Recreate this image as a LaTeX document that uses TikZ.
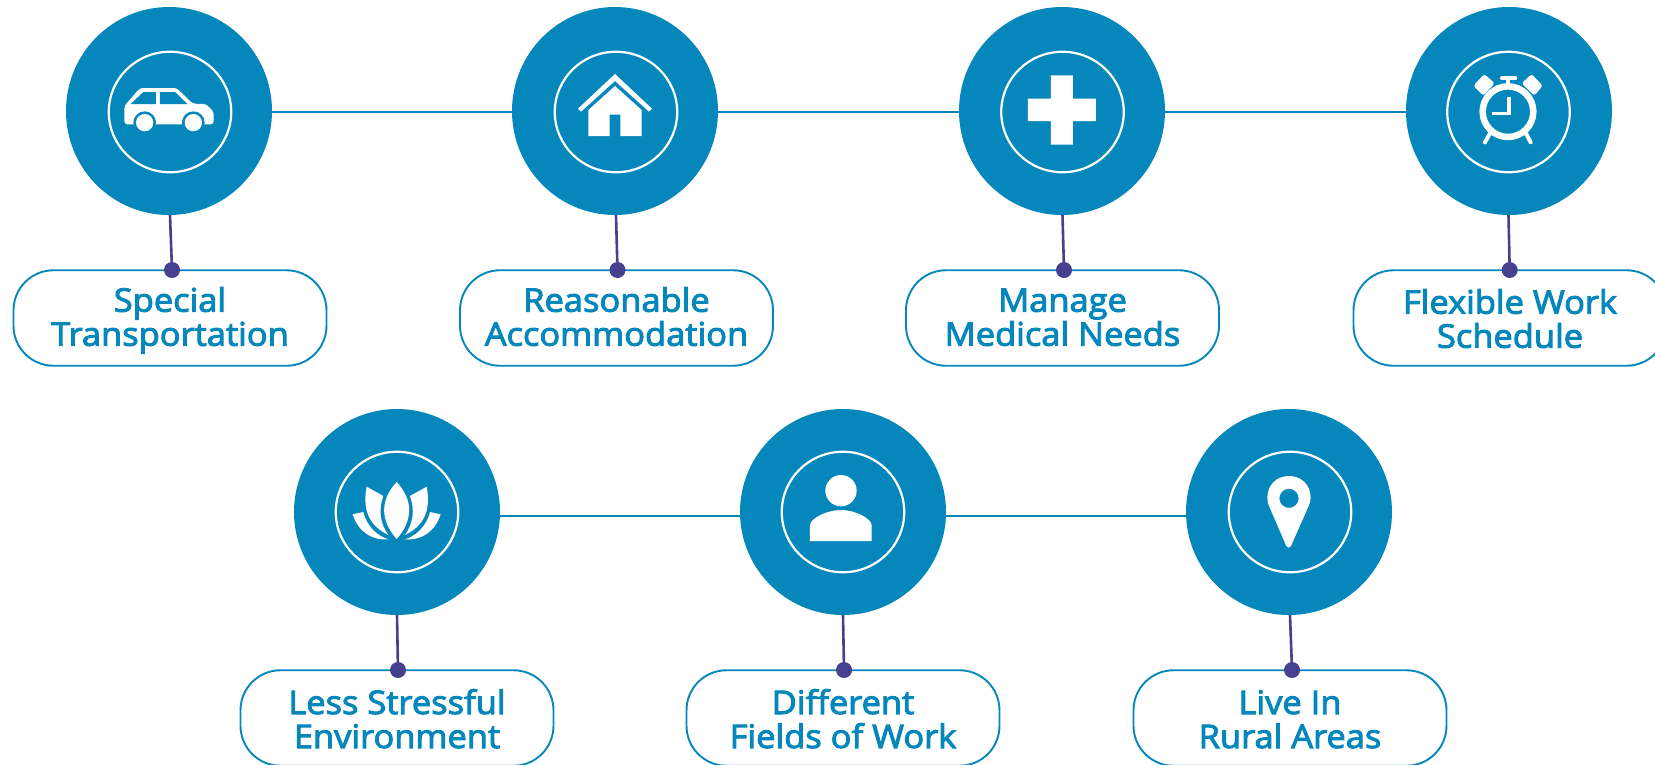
\documentclass[tikz,border=0pt]{standalone}
\usepackage{fontspec}
\usetikzlibrary{backgrounds,shapes.geometric}
\newfontfamily\osemi[FakeBold=3,FakeStretch=1.06]{Open Sans}
\definecolor{tealblue}{HTML}{0587BB}
\definecolor{stemviolet}{HTML}{47408E}
\tikzset{
  x=1pt,y=-1pt,
  disc/.style={ellipse,fill=tealblue,minimum width=206pt,minimum height=208pt,inner sep=0pt,outer sep=0pt},
  disclow/.style={disc,minimum height=206pt},
  ringc/.style={ellipse,draw=white,line width=2.2pt,minimum width=122.5pt,minimum height=120.5pt,inner sep=0pt,outer sep=0pt},
  pill/.style={draw=tealblue,line width=1.9pt,rounded corners=40pt,minimum width=313pt,minimum height=95.5pt,inner sep=0pt,outer sep=0pt,text=tealblue,align=center,font=\osemi\fontsize{32.5}{34}\selectfont,text height=60pt,text depth=4.6pt},
  pilllow/.style={pill,text height=64.6pt,text depth=4.6pt},
  dotn/.style={circle,fill=stemviolet,minimum size=16pt,inner sep=0pt,outer sep=0pt},
  hlink/.style={draw=tealblue,line width=2.7pt},
  stem/.style={draw=stemviolet,line width=2.6pt},
  icon/.style={fill=white,draw=none},
  iconcut/.style={fill=tealblue,draw=none},
  zoomed/.style={x=0.33333pt,y=-0.33333pt},
}
\begin{document}
\begin{tikzpicture}
\useasboundingbox (0,0) rectangle (1655,764);
\clip (0,0) rectangle (1655,764);
% discs
\node[disc] (d1) at (169,111) {};
\node[disc] (d2) at (615,111) {};
\node[disc] (d3) at (1062,111) {};
\node[disc] (d4) at (1509,111) {};
\node[disclow] (d5) at (397,512) {};
\node[disclow] (d6) at (843,512) {};
\node[disclow] (d7) at (1289,512) {};
% rings
\node[ringc] (r1) at (170,112) {};
\node[ringc] (r2) at (616,112) {};
\node[ringc] (r3) at (1062.5,112) {};
\node[ringc] (r4) at (1508.5,112) {};
\node[ringc] (r5) at (397,512) {};
\node[ringc] (r6) at (843,512) {};
\node[ringc] (r7) at (1290,512) {};
% pills
\node[pill] (p1) at (170,318) {Special\\Transportation};
\node[pill] (p2) at (616.5,318) {Reasonable\\Accommodation};
\node[pill] (p3) at (1062.5,318) {Manage\\Medical Needs};
\node[pill,text height=64pt,text depth=4.6pt] (p4) at (1510,318) {Flexible Work\\Schedule};
\node[pilllow] (p5) at (397,718) {Less Stressful\\Environment};
\node[pilllow] (p6) at (843,718) {Different\\Fields of Work};
\node[pilllow] (p7) at (1290,718) {Live In\\Rural Areas};
% dots
\node[dotn] (t1) at (172,270) {};
\node[dotn] (t2) at (617.5,270) {};
\node[dotn] (t3) at (1064,270) {};
\node[dotn] (t4) at (1509.7,270) {};
\node[dotn] (t5) at (398,670) {};
\node[dotn] (t6) at (844,670) {};
\node[dotn] (t7) at (1292,670) {};
% connectors
\begin{scope}[on background layer]
\draw[hlink] (r1) -- (r2);
\draw[hlink] (r2) -- (r3);
\draw[hlink] (r3) -- (r4);
\draw[hlink] ([yshift=-4pt]r5.center) -- ([yshift=-4pt]r6.center);
\draw[hlink] ([yshift=-4pt]r6.center) -- ([yshift=-4pt]r7.center);
\foreach \i in {1,...,7}{\draw[stem] (r\i |- d\i.south) -- (t\i);}
\end{scope}
% car
\begin{scope}[zoomed]
\fill[icon,rounded corners=3pt] (373,335) -- (373,318) -- (420,264) -- (530,264) -- (578,311) -- (618,312) -- (641,335) -- (641,373) -- (373,373) -- cycle;
\fill[iconcut] (392,312) -- (430,276) -- (468,276) -- (468,312) -- cycle;
\fill[iconcut] (480,276) -- (525,276) -- (562,312) -- (480,312) -- cycle;
\fill[iconcut] (434,368) circle[radius=34] (580,368) circle[radius=34];
\fill[icon] (434,368) circle[radius=26] (580,368) circle[radius=26];
\end{scope}
% house
\begin{scope}[zoomed,shift={(1500,90)}]
\fill[icon] (234,236) -- (345,132) -- (456,236) -- (447,245) -- (345,153) -- (243,245) -- cycle;
\fill[icon] (265,318) -- (265,240) -- (345,168) -- (425,240) -- (425,318) -- (361,318) -- (361,254) -- (329,254) -- (329,318) -- cycle;
\end{scope}
% cross
\begin{scope}[zoomed,shift={(3000,150)}]
\fill[icon] (153,76) -- (219,76) -- (219,146) -- (288,146) -- (288,213) -- (219,213) -- (219,284) -- (153,284) -- (153,213) -- (84,213) -- (84,146) -- (153,146) -- cycle;
\end{scope}
% clock
\begin{scope}[zoomed,shift={(4320,150)}]
\draw[white,line width=6.5pt] (204,185) circle[radius=76];
\draw[white,line width=3.6pt,line join=miter] (207,140) -- (207,190) -- (155,190);
\draw[white,line width=4pt] (204,88) -- (204,105);
\draw[white,line width=4pt,line cap=round] (186,85) -- (226,85);
\draw[white,line width=4pt,line cap=round] (150,250) -- (135,277);
\draw[white,line width=4pt,line cap=round] (258,250) -- (272,277);
\fill[icon,rounded corners=2.5pt] (133,72) -- (164,100) -- (130,137) -- (100,107) -- cycle;
\fill[icon,rounded corners=2.5pt] (275,72) -- (308,107) -- (283,137) -- (245,100) -- cycle;
\end{scope}
% lotus
\begin{scope}[zoomed,shift={(900,1260)}]
\fill[icon] (290,186) .. controls (240,240) and (240,300) .. (290,357) .. controls (340,300) and (340,240) .. (290,186) -- cycle;
\fill[icon] (200,200) -- (250,228) .. controls (235,270) and (240,310) .. (265,345) .. controls (215,320) and (185,280) .. (200,200) -- cycle;
\fill[icon] (380,200) -- (330,228) .. controls (345,270) and (340,310) .. (315,345) .. controls (365,320) and (395,280) .. (380,200) -- cycle;
\fill[icon] (158,283) -- (190,276) .. controls (200,320) and (235,350) .. (266,358) .. controls (215,362) and (175,335) .. (158,283) -- cycle;
\fill[icon] (422,283) -- (390,276) .. controls (380,320) and (345,350) .. (314,358) .. controls (365,362) and (405,335) .. (422,283) -- cycle;
\end{scope}
% person
\begin{scope}[zoomed,shift={(2340,1350)}]
\fill[icon] (183,122) circle[radius=47];
\fill[icon] (90,273) -- (90,225) .. controls (92,205) and (140,180) .. (183,180) .. controls (226,180) and (273,205) .. (275,225) -- (275,273) -- cycle;
\end{scope}
% pin
\begin{scope}[zoomed,shift={(3675,1350)}]
\fill[icon,even odd rule] (127,143) .. controls (127,105) and (155,78) .. (192,78) .. controls (229,78) and (257,105) .. (257,143) .. controls (257,152) and (254,162) .. (250,170) -- (198,288) .. controls (195,295) and (187,295) .. (184,288) -- (133,170) .. controls (129,162) and (127,152) .. (127,143) -- cycle (192,145) circle[radius=29];
\end{scope}
\end{tikzpicture}
\end{document}
